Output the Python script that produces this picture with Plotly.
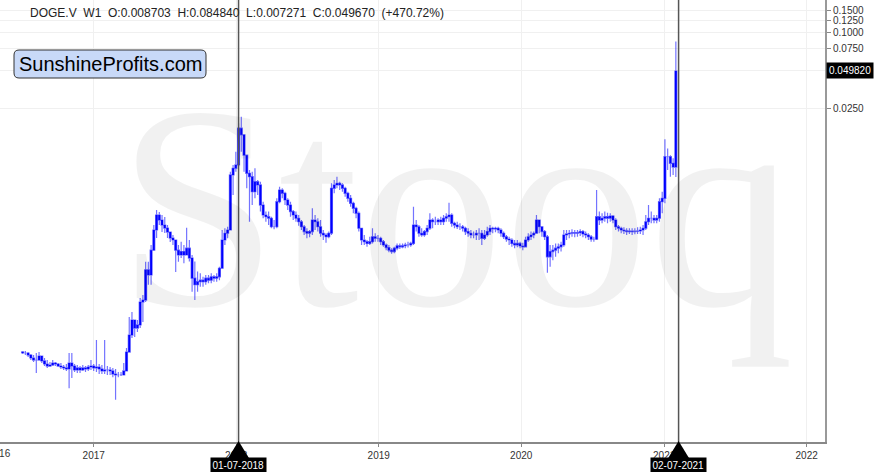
import numpy as np
import pandas as pd
import plotly.graph_objects as go

# ---------------- data (weekly DOGE.V bars) ----------------
first_week = "2016-07-03"
n_weeks = 240
weeks = pd.date_range(first_week, periods=n_weeks, freq="7D")

opens = [
    3.05e-4, 2.99e-4, 2.99e-4, 2.88e-4, 2.73e-4, 2.63e-4, 2.63e-4, 2.83e-4, 2.59e-4, 2.45e-4,
    2.36e-4, 2.40e-4, 2.49e-4, 2.45e-4, 2.36e-4, 2.32e-4, 2.28e-4, 2.24e-4, 2.49e-4, 2.36e-4,
    2.20e-4, 2.28e-4, 2.20e-4, 2.28e-4, 2.24e-4, 2.32e-4, 2.36e-4, 2.28e-4, 2.32e-4, 2.24e-4,
    2.16e-4, 2.20e-4, 2.20e-4, 2.16e-4, 2.04e-4, 2.01e-4, 2.01e-4, 2.01e-4, 2.16e-4, 3.04e-4,
    4.14e-4, 5.44e-4, 4.70e-4, 4.97e-4, 7.53e-4, 7.81e-4, 1.35e-3, 1.23e-3, 1.93e-3, 2.78e-3,
    3.65e-3, 3.33e-3, 3.04e-3, 2.88e-3, 2.68e-3, 2.40e-3, 2.32e-3, 1.93e-3, 1.77e-3, 1.88e-3,
    1.77e-3, 2.00e-3, 1.67e-3, 1.16e-3, 1.03e-3, 1.09e-3, 1.12e-3, 1.09e-3, 1.16e-3, 1.12e-3,
    1.19e-3, 1.16e-3, 1.19e-3, 1.39e-3, 2.32e-3, 2.62e-3, 2.78e-3, 7.54e-3, 8.51e-3, 9.04e-3,
    1.76e-2, 1.56e-2, 1.08e-2, 7.77e-3, 7.31e-3, 5.57e-3, 6.68e-3, 6.29e-3, 4.37e-3, 3.65e-3,
    3.54e-3, 3.44e-3, 2.95e-3, 2.95e-3, 4.65e-3, 5.74e-3, 5.41e-3, 4.79e-3, 4.37e-3, 3.88e-3,
    3.65e-3, 3.44e-3, 3.23e-3, 2.95e-3, 2.70e-3, 2.62e-3, 2.70e-3, 3.33e-3, 3.23e-3, 2.95e-3,
    2.62e-3, 2.54e-3, 2.46e-3, 2.62e-3, 5.92e-3, 6.29e-3, 6.48e-3, 6.29e-3, 5.92e-3, 5.41e-3,
    4.94e-3, 4.51e-3, 4.12e-3, 3.76e-3, 2.87e-3, 2.32e-3, 2.25e-3, 2.18e-3, 2.25e-3, 2.46e-3,
    2.39e-3, 2.39e-3, 2.25e-3, 2.12e-3, 2.02e-3, 1.93e-3, 1.88e-3, 2.00e-3, 2.09e-3, 2.05e-3,
    2.09e-3, 2.12e-3, 2.12e-3, 2.18e-3, 3.04e-3, 2.95e-3, 2.62e-3, 2.54e-3, 2.70e-3, 2.87e-3,
    3.33e-3, 3.23e-3, 3.23e-3, 3.33e-3, 3.23e-3, 3.44e-3, 3.54e-3, 3.65e-3, 3.14e-3, 3.04e-3,
    2.95e-3, 2.95e-3, 2.87e-3, 2.70e-3, 2.62e-3, 2.54e-3, 2.54e-3, 2.62e-3, 2.62e-3, 2.39e-3,
    2.54e-3, 2.70e-3, 2.87e-3, 2.83e-3, 2.87e-3, 2.78e-3, 2.62e-3, 2.46e-3, 2.36e-3, 2.32e-3,
    2.18e-3, 2.12e-3, 2.18e-3, 2.08e-3, 2.05e-3, 2.32e-3, 2.46e-3, 2.54e-3, 2.62e-3, 3.33e-3,
    2.95e-3, 2.70e-3, 2.46e-3, 1.71e-3, 1.88e-3, 1.93e-3, 2.00e-3, 2.05e-3, 2.12e-3, 2.54e-3,
    2.59e-3, 2.62e-3, 2.65e-3, 2.62e-3, 2.65e-3, 2.70e-3, 2.59e-3, 2.54e-3, 2.46e-3, 2.35e-3,
    2.35e-3, 3.54e-3, 3.33e-3, 3.44e-3, 3.54e-3, 3.44e-3, 3.58e-3, 3.33e-3, 2.95e-3, 2.87e-3,
    2.78e-3, 2.74e-3, 2.70e-3, 2.73e-3, 2.70e-3, 2.72e-3, 2.73e-3, 2.78e-3, 2.87e-3, 3.23e-3,
    3.44e-3, 3.44e-3, 3.33e-3, 3.44e-3, 4.65e-3, 4.94e-3, 1.05e-2, 1.05e-2, 9.32e-3, 8.703e-3,
]

highs = [
    3.10e-4, 3.10e-4, 3.04e-4, 2.94e-4, 2.88e-4, 2.99e-4, 3.04e-4, 2.83e-4, 2.73e-4, 2.63e-4,
    2.54e-4, 2.63e-4, 2.54e-4, 2.49e-4, 2.49e-4, 2.40e-4, 2.45e-4, 2.99e-4, 2.99e-4, 2.45e-4,
    2.40e-4, 2.36e-4, 2.40e-4, 2.36e-4, 2.40e-4, 2.63e-4, 2.45e-4, 3.78e-4, 2.45e-4, 2.40e-4,
    3.78e-4, 2.36e-4, 2.32e-4, 2.28e-4, 2.24e-4, 2.12e-4, 2.12e-4, 2.49e-4, 3.27e-4, 5.74e-4,
    6.28e-4, 5.44e-4, 5.44e-4, 8.10e-4, 8.56e-4, 1.56e-3, 1.56e-3, 2.12e-3, 3.04e-3, 4.00e-3,
    3.85e-3, 3.65e-3, 3.52e-3, 3.04e-3, 2.68e-3, 2.54e-3, 2.24e-3, 2.12e-3, 2.25e-3, 2.12e-3,
    2.90e-3, 2.32e-3, 1.77e-3, 1.57e-3, 1.31e-3, 1.27e-3, 1.19e-3, 1.23e-3, 1.23e-3, 1.27e-3,
    1.23e-3, 1.27e-3, 1.43e-3, 2.78e-3, 2.87e-3, 2.95e-3, 8.00e-3, 9.04e-3, 1.15e-2, 1.93e-2,
    2.17e-2, 1.51e-2, 1.08e-2, 8.25e-3, 8.00e-3, 8.51e-3, 6.88e-3, 6.68e-3, 4.65e-3, 3.88e-3,
    3.88e-3, 3.54e-3, 3.33e-3, 4.94e-3, 6.10e-3, 5.92e-3, 5.57e-3, 4.94e-3, 4.65e-3, 4.00e-3,
    3.88e-3, 3.65e-3, 3.33e-3, 3.04e-3, 2.87e-3, 2.78e-3, 4.12e-3, 3.65e-3, 3.44e-3, 3.33e-3,
    2.78e-3, 2.62e-3, 2.70e-3, 6.48e-3, 6.88e-3, 7.31e-3, 6.68e-3, 6.48e-3, 6.10e-3, 5.57e-3,
    5.24e-3, 4.65e-3, 4.24e-3, 3.88e-3, 2.78e-3, 2.54e-3, 2.32e-3, 2.46e-3, 2.87e-3, 2.62e-3,
    2.54e-3, 2.46e-3, 2.32e-3, 2.18e-3, 2.12e-3, 2.00e-3, 2.05e-3, 2.18e-3, 2.18e-3, 2.18e-3,
    2.21e-3, 2.25e-3, 2.25e-3, 4.24e-3, 3.33e-3, 3.04e-3, 2.87e-3, 2.78e-3, 3.04e-3, 3.76e-3,
    3.44e-3, 3.54e-3, 3.44e-3, 3.54e-3, 3.65e-3, 3.76e-3, 4.56e-3, 3.76e-3, 3.23e-3, 3.23e-3,
    3.14e-3, 3.04e-3, 2.95e-3, 2.87e-3, 2.78e-3, 2.70e-3, 2.78e-3, 2.87e-3, 2.78e-3, 2.78e-3,
    2.95e-3, 3.04e-3, 2.95e-3, 2.95e-3, 2.95e-3, 2.87e-3, 2.70e-3, 2.54e-3, 2.46e-3, 2.39e-3,
    2.32e-3, 2.32e-3, 2.25e-3, 2.21e-3, 2.46e-3, 2.62e-3, 2.70e-3, 2.70e-3, 3.65e-3, 3.23e-3,
    2.95e-3, 2.78e-3, 2.54e-3, 2.12e-3, 2.12e-3, 2.18e-3, 2.18e-3, 2.25e-3, 2.78e-3, 2.78e-3,
    2.78e-3, 2.82e-3, 2.78e-3, 2.78e-3, 2.82e-3, 2.78e-3, 2.70e-3, 2.62e-3, 2.54e-3, 2.46e-3,
    5.74e-3, 3.88e-3, 3.76e-3, 3.88e-3, 3.80e-3, 3.76e-3, 3.65e-3, 3.44e-3, 3.04e-3, 2.95e-3,
    2.92e-3, 2.87e-3, 2.87e-3, 2.87e-3, 2.87e-3, 2.92e-3, 2.95e-3, 3.04e-3, 3.65e-3, 4.37e-3,
    3.88e-3, 3.65e-3, 3.65e-3, 4.94e-3, 5.57e-3, 1.44e-2, 1.22e-2, 1.08e-2, 1.02e-2, 8.484e-2,
]

lows = [
    2.94e-4, 2.88e-4, 2.78e-4, 2.63e-4, 2.54e-4, 2.08e-4, 2.63e-4, 2.49e-4, 2.36e-4, 2.28e-4,
    2.32e-4, 2.36e-4, 2.36e-4, 2.32e-4, 2.24e-4, 2.20e-4, 2.16e-4, 1.58e-4, 1.90e-4, 2.12e-4,
    2.08e-4, 2.08e-4, 2.16e-4, 2.12e-4, 2.16e-4, 2.20e-4, 2.16e-4, 2.12e-4, 2.04e-4, 2.04e-4,
    2.04e-4, 2.01e-4, 2.01e-4, 1.93e-4, 1.28e-4, 1.93e-4, 1.97e-4, 2.01e-4, 2.54e-4, 3.04e-4,
    3.92e-4, 3.99e-4, 4.37e-4, 4.70e-4, 5.24e-4, 7.53e-4, 1.03e-3, 1.03e-3, 1.93e-3, 2.40e-3,
    3.04e-3, 2.68e-3, 2.63e-3, 2.40e-3, 2.24e-3, 2.12e-3, 1.30e-3, 1.56e-3, 1.67e-3, 1.52e-3,
    1.77e-3, 1.57e-3, 9.09e-4, 7.81e-4, 9.09e-4, 9.95e-4, 9.95e-4, 1.03e-3, 1.06e-3, 1.06e-3,
    1.09e-3, 1.09e-3, 1.12e-3, 1.39e-3, 2.12e-3, 2.39e-3, 2.78e-3, 5.24e-3, 8.00e-3, 8.76e-3,
    1.15e-2, 8.00e-3, 5.92e-3, 3.23e-3, 4.37e-3, 4.94e-3, 5.24e-3, 3.88e-3, 3.44e-3, 3.23e-3,
    3.04e-3, 2.87e-3, 2.82e-3, 2.87e-3, 4.51e-3, 4.94e-3, 4.37e-3, 4.00e-3, 3.54e-3, 3.33e-3,
    3.23e-3, 3.00e-3, 2.78e-3, 2.54e-3, 2.39e-3, 2.44e-3, 2.54e-3, 2.78e-3, 2.70e-3, 2.46e-3,
    2.32e-3, 2.21e-3, 2.39e-3, 2.54e-3, 5.41e-3, 5.92e-3, 5.74e-3, 5.57e-3, 5.09e-3, 4.65e-3,
    4.24e-3, 3.76e-3, 3.44e-3, 2.70e-3, 2.12e-3, 2.12e-3, 2.05e-3, 2.12e-3, 2.18e-3, 2.25e-3,
    2.25e-3, 2.12e-3, 2.05e-3, 1.93e-3, 1.86e-3, 1.81e-3, 1.82e-3, 1.93e-3, 1.97e-3, 2.00e-3,
    2.00e-3, 2.02e-3, 2.05e-3, 2.12e-3, 2.70e-3, 2.46e-3, 2.46e-3, 2.46e-3, 2.54e-3, 2.78e-3,
    2.87e-3, 3.04e-3, 3.04e-3, 3.04e-3, 3.04e-3, 3.23e-3, 3.23e-3, 2.95e-3, 2.87e-3, 2.83e-3,
    2.78e-3, 2.70e-3, 2.54e-3, 2.46e-3, 2.39e-3, 2.39e-3, 2.32e-3, 2.32e-3, 2.12e-3, 2.32e-3,
    2.46e-3, 2.54e-3, 2.62e-3, 2.67e-3, 2.62e-3, 2.46e-3, 2.36e-3, 2.25e-3, 2.12e-3, 2.05e-3,
    2.00e-3, 2.03e-3, 2.00e-3, 1.93e-3, 2.05e-3, 2.25e-3, 2.32e-3, 2.39e-3, 2.62e-3, 2.62e-3,
    2.46e-3, 2.32e-3, 1.28e-3, 1.43e-3, 1.61e-3, 1.71e-3, 1.82e-3, 1.88e-3, 2.05e-3, 2.32e-3,
    2.39e-3, 2.46e-3, 2.44e-3, 2.46e-3, 2.49e-3, 2.44e-3, 2.39e-3, 2.32e-3, 2.25e-3, 2.25e-3,
    2.32e-3, 3.04e-3, 3.14e-3, 3.23e-3, 3.14e-3, 3.23e-3, 3.14e-3, 2.78e-3, 2.70e-3, 2.62e-3,
    2.59e-3, 2.54e-3, 2.59e-3, 2.54e-3, 2.57e-3, 2.59e-3, 2.59e-3, 2.54e-3, 2.78e-3, 3.04e-3,
    3.14e-3, 3.14e-3, 3.14e-3, 3.23e-3, 3.76e-3, 4.51e-3, 8.25e-3, 7.31e-3, 7.54e-3, 7.271e-3,
]

closes = [
    2.99e-4, 2.99e-4, 2.88e-4, 2.73e-4, 2.63e-4, 2.63e-4, 2.83e-4, 2.59e-4, 2.45e-4, 2.36e-4,
    2.40e-4, 2.49e-4, 2.45e-4, 2.36e-4, 2.32e-4, 2.28e-4, 2.24e-4, 2.49e-4, 2.36e-4, 2.20e-4,
    2.28e-4, 2.20e-4, 2.28e-4, 2.24e-4, 2.32e-4, 2.36e-4, 2.28e-4, 2.32e-4, 2.24e-4, 2.16e-4,
    2.20e-4, 2.20e-4, 2.16e-4, 2.04e-4, 2.01e-4, 2.01e-4, 2.01e-4, 2.16e-4, 3.04e-4, 4.14e-4,
    5.44e-4, 4.70e-4, 4.97e-4, 7.53e-4, 7.81e-4, 1.35e-3, 1.23e-3, 1.93e-3, 2.78e-3, 3.65e-3,
    3.33e-3, 3.04e-3, 2.88e-3, 2.68e-3, 2.40e-3, 2.32e-3, 1.93e-3, 1.77e-3, 1.88e-3, 1.77e-3,
    2.00e-3, 1.67e-3, 1.16e-3, 1.03e-3, 1.09e-3, 1.12e-3, 1.09e-3, 1.16e-3, 1.12e-3, 1.19e-3,
    1.16e-3, 1.19e-3, 1.39e-3, 2.32e-3, 2.62e-3, 2.78e-3, 7.54e-3, 8.51e-3, 9.04e-3, 1.76e-2,
    1.56e-2, 1.08e-2, 7.77e-3, 7.31e-3, 5.57e-3, 6.68e-3, 6.29e-3, 4.37e-3, 3.65e-3, 3.54e-3,
    3.44e-3, 2.95e-3, 2.95e-3, 4.65e-3, 5.74e-3, 5.41e-3, 4.79e-3, 4.37e-3, 3.88e-3, 3.65e-3,
    3.44e-3, 3.23e-3, 2.95e-3, 2.70e-3, 2.62e-3, 2.70e-3, 3.33e-3, 3.23e-3, 2.95e-3, 2.62e-3,
    2.54e-3, 2.46e-3, 2.62e-3, 5.92e-3, 6.29e-3, 6.48e-3, 6.29e-3, 5.92e-3, 5.41e-3, 4.94e-3,
    4.51e-3, 4.12e-3, 3.76e-3, 2.87e-3, 2.32e-3, 2.25e-3, 2.18e-3, 2.25e-3, 2.46e-3, 2.39e-3,
    2.39e-3, 2.25e-3, 2.12e-3, 2.02e-3, 1.93e-3, 1.88e-3, 2.00e-3, 2.09e-3, 2.05e-3, 2.09e-3,
    2.12e-3, 2.12e-3, 2.18e-3, 3.04e-3, 2.95e-3, 2.62e-3, 2.54e-3, 2.70e-3, 2.87e-3, 3.33e-3,
    3.23e-3, 3.23e-3, 3.33e-3, 3.23e-3, 3.44e-3, 3.54e-3, 3.65e-3, 3.14e-3, 3.04e-3, 2.95e-3,
    2.95e-3, 2.87e-3, 2.70e-3, 2.62e-3, 2.54e-3, 2.54e-3, 2.62e-3, 2.62e-3, 2.39e-3, 2.54e-3,
    2.70e-3, 2.87e-3, 2.83e-3, 2.87e-3, 2.78e-3, 2.62e-3, 2.46e-3, 2.36e-3, 2.32e-3, 2.18e-3,
    2.12e-3, 2.18e-3, 2.08e-3, 2.05e-3, 2.32e-3, 2.46e-3, 2.54e-3, 2.62e-3, 3.33e-3, 2.95e-3,
    2.70e-3, 2.46e-3, 1.71e-3, 1.88e-3, 1.93e-3, 2.00e-3, 2.05e-3, 2.12e-3, 2.54e-3, 2.59e-3,
    2.62e-3, 2.65e-3, 2.62e-3, 2.65e-3, 2.70e-3, 2.59e-3, 2.54e-3, 2.46e-3, 2.35e-3, 2.35e-3,
    3.54e-3, 3.33e-3, 3.44e-3, 3.54e-3, 3.44e-3, 3.58e-3, 3.33e-3, 2.95e-3, 2.87e-3, 2.78e-3,
    2.74e-3, 2.70e-3, 2.73e-3, 2.70e-3, 2.72e-3, 2.73e-3, 2.78e-3, 2.87e-3, 3.23e-3, 3.44e-3,
    3.44e-3, 3.33e-3, 3.44e-3, 4.65e-3, 4.94e-3, 1.05e-2, 1.05e-2, 9.32e-3, 8.703e-3, 4.967e-2,
]

y_tick_vals = [0.025, 0.05, 0.075, 0.1, 0.125, 0.15]
y_tick_text = ["0.0250", "", "0.0750", "0.1000", "0.1250", "0.1500"]
x_tick_vals = ["2017-01-01", "2018-01-01", "2019-01-01", "2020-01-01", "2021-01-01", "2022-01-01"]
x_tick_text = ["2017", "2018", "2019", "2020", "2021", "2022"]
marker_dates = ["2018-01-07", "2021-02-07"]
marker_labels = ["01-07-2018", "02-07-2021"]
last_price = 0.049820
last_price_text = "0.049820"
header = "DOGE.V  W1  O:0.008703  H:0.084840  L:0.007271  C:0.049670  (+470.72%)"

# ---------------- layout constants ----------------
W, H = 885, 472
ML, MR, MT, MB = 0, 60, 0, 30
PW, PH = W - ML - MR, H - MT - MB
x_start, x_end = pd.Timestamp("2016-05-06"), pd.Timestamp("2022-02-17")
y_range = [-4.2252, -0.7449]
FONT = "Liberation Sans, Arial, Helvetica, sans-serif"


def xfrac(d):
    d = pd.Timestamp(d)
    return (d - x_start) / (x_end - x_start)


fig = go.Figure()
fig.add_trace(go.Candlestick(
    x=weeks, open=opens, high=highs, low=lows, close=closes,
    increasing=dict(line=dict(color="rgba(0,0,255,0.55)", width=1.2), fillcolor="#0000ff"),
    decreasing=dict(line=dict(color="rgba(0,0,255,0.55)", width=1.2), fillcolor="#0000ff"),
    whiskerwidth=0, showlegend=False, hoverinfo="skip",
))

shapes = []
annotations = []

# watermark
annotations.append(dict(
    text="Stooq", xref="paper", yref="paper", x=455 / PW, y=1 - 207 / PH,
    xanchor="center", yanchor="middle", showarrow=False,
    font=dict(family="Liberation Serif, Times New Roman, serif", size=290, color="rgba(0,0,0,0.055)"),
))

# vertical marker lines, triangles and date labels
for d, lab in zip(marker_dates, marker_labels):
    fx = xfrac(d)
    shapes.append(dict(type="line", xref="paper", yref="paper", x0=fx, x1=fx, y0=0, y1=1,
                       line=dict(color="#555555", width=1.5), layer="above"))
    w, h = 11 / PW, 17 / PH
    shapes.append(dict(type="path", xref="paper", yref="paper",
                       path=f"M {fx - w},{-h} L {fx + w},{-h} L {fx},{0.002} Z",
                       fillcolor="black", line=dict(width=0), layer="above"))
    annotations.append(dict(
        text=lab, xref="paper", yref="paper", x=fx, y=0, xanchor="center", yanchor="top",
        yshift=-15, showarrow=False, bgcolor="black", borderpad=1.5,
        font=dict(family=FONT, size=10, color="white"),
    ))

# left clipped year label
annotations.append(dict(text="2016", xref="paper", yref="paper", x=-1 / PW, y=0,
                        xanchor="center", yanchor="top", yshift=-4, showarrow=False,
                        font=dict(family=FONT, size=10, color="#333333")))

# last price label on the right axis
annotations.append(dict(
    text=last_price_text, xref="paper", yref="y", x=1, y=float(np.log10(last_price)),
    xanchor="left", yanchor="middle", xshift=1, showarrow=False, bgcolor="black", borderpad=2,
    font=dict(family=FONT, size=10, color="white"),
))

# header text
annotations.append(dict(
    text=header.replace("  ", "\u00a0\u00a0"), xref="paper", yref="paper", x=28 / PW, y=1 - 12.5 / PH,
    xanchor="left", yanchor="middle", showarrow=False,
    font=dict(family=FONT, size=12, color="#222222"),
))

# SunshineProfits.com badge
bx0, bx1 = 14 / PW, 206 / PW
by1, by0 = 1 - 50 / PH, 1 - 78 / PH
rx, ry = 5 / PW, 5 / PH
badge = (f"M {bx0 + rx},{by1} L {bx1 - rx},{by1} Q {bx1},{by1} {bx1},{by1 - ry} "
         f"L {bx1},{by0 + ry} Q {bx1},{by0} {bx1 - rx},{by0} L {bx0 + rx},{by0} "
         f"Q {bx0},{by0} {bx0},{by0 + ry} L {bx0},{by1 - ry} Q {bx0},{by1} {bx0 + rx},{by1} Z")
shapes.append(dict(type="path", xref="paper", yref="paper", path=badge,
                   fillcolor="#c8d9f8", line=dict(color="#333333", width=1), layer="above"))
annotations.append(dict(
    text="SunshineProfits.com", xref="paper", yref="paper", x=(bx0 + bx1) / 2, y=(by0 + by1) / 2,
    xanchor="center", yanchor="middle", showarrow=False,
    font=dict(family=FONT, size=20, color="black"),
))

fig.update_layout(
    width=W, height=H, margin=dict(l=ML, r=MR, t=MT, b=MB),
    paper_bgcolor="white", plot_bgcolor="white", showlegend=False,
    boxgap=0.3, boxgroupgap=0,
    font=dict(family=FONT, size=10, color="#333333"),
    xaxis=dict(
        type="date", range=[x_start, x_end], rangeslider=dict(visible=False),
        tickvals=x_tick_vals, ticktext=x_tick_text, ticks="outside", ticklen=3,
        tickcolor="#888888", showline=True, linecolor="#888888", linewidth=1.5,
        showgrid=True, gridcolor="#f0f0f0", gridwidth=1, zeroline=False,
        tickfont=dict(family=FONT, size=10, color="#333333"),
    ),
    yaxis=dict(
        type="log", side="right", range=y_range, tickvals=y_tick_vals, ticktext=y_tick_text,
        ticks="outside", ticklen=4, tickcolor="#888888", showline=True, linecolor="#999999",
        linewidth=2, showgrid=True, gridcolor="#f0f0f0", gridwidth=1, zeroline=False,
        tickfont=dict(family=FONT, size=10, color="#333333"),
    ),
    shapes=shapes, annotations=annotations,
)

fig.write_html(
    "out.html",
    config={"displayModeBar": False},
    post_script="document.body.style.margin='0';document.body.style.overflow='hidden';",
)
